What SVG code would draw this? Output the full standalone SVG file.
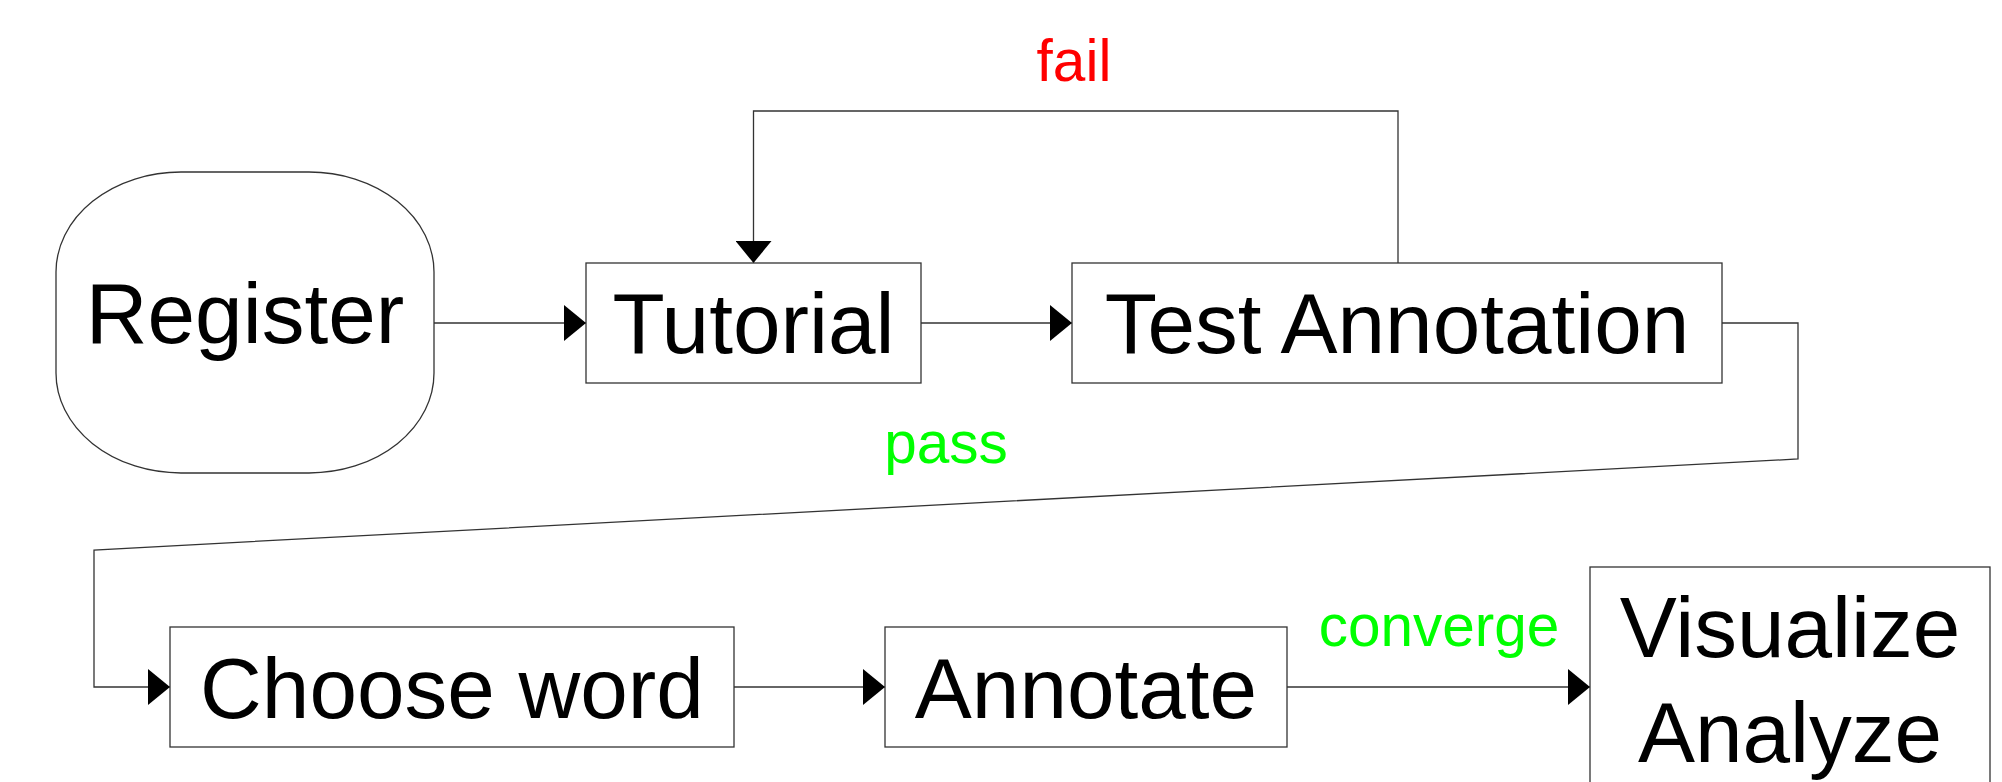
<svg xmlns="http://www.w3.org/2000/svg" width="2002" height="782" viewBox="0 0 2002 782">
<style>
.node{fill:#fff;stroke:#333;stroke-width:1.3}
.nt{font-family:"Liberation Sans",Arial,sans-serif;font-size:85.5px;fill:#000;text-anchor:middle}
.lbl{font-family:"Liberation Sans",Arial,sans-serif;font-size:58.5px;text-anchor:middle}
.conn{fill:none;stroke:#333;stroke-width:1.3}
</style>
<defs>
<marker id="arr" markerUnits="userSpaceOnUse" markerWidth="22" markerHeight="36" viewBox="0 0 22 36" refX="22" refY="18" orient="auto">
<path d="M0,0 L22,18 L0,36 Z" fill="#000"/>
</marker>
</defs>
<rect width="2002" height="782" fill="#fff"/>
<g id="connectors">
<path class="conn" d="M434,323 H586" marker-end="url(#arr)"/>
<path class="conn" d="M921,323 H1072" marker-end="url(#arr)"/>
<path class="conn" d="M1398,263 V111 H753.5 V263" marker-end="url(#arr)"/>
<path class="conn" d="M1722,323 H1798 V459 L94,550 V687 H170" marker-end="url(#arr)"/>
<path class="conn" d="M734,687 H885" marker-end="url(#arr)"/>
<path class="conn" d="M1287,687 H1590" marker-end="url(#arr)"/>
<text class="lbl" x="1074" y="81" fill="#ff0000">fail</text>
<text class="lbl" x="946" y="463" fill="#00ff00">pass</text>
<text class="lbl" x="1439" y="646" fill="#00ff00">converge</text>
</g>
<g id="register">
<rect class="node" x="56" y="172" width="378" height="301" rx="125" ry="100"/>
<text class="nt" x="245" y="343">Register</text>
</g>
<g id="tutorial">
<rect class="node" x="586" y="263" width="335" height="120"/>
<text class="nt" x="753.5" y="353">Tutorial</text>
</g>
<g id="test-annotation">
<rect class="node" x="1072" y="263" width="650" height="120"/>
<text class="nt" x="1397" y="353">Test Annotation</text>
</g>
<g id="choose-word">
<rect class="node" x="170" y="627" width="564" height="120"/>
<text class="nt" x="452" y="718">Choose word</text>
</g>
<g id="annotate">
<rect class="node" x="885" y="627" width="402" height="120"/>
<text class="nt" x="1086" y="718">Annotate</text>
</g>
<g id="visualize-analyze">
<rect class="node" x="1590" y="567" width="400" height="240"/>
<text class="nt" x="1790" y="657">Visualize</text>
<text class="nt" x="1790" y="762">Analyze</text>
</g>
</svg>
